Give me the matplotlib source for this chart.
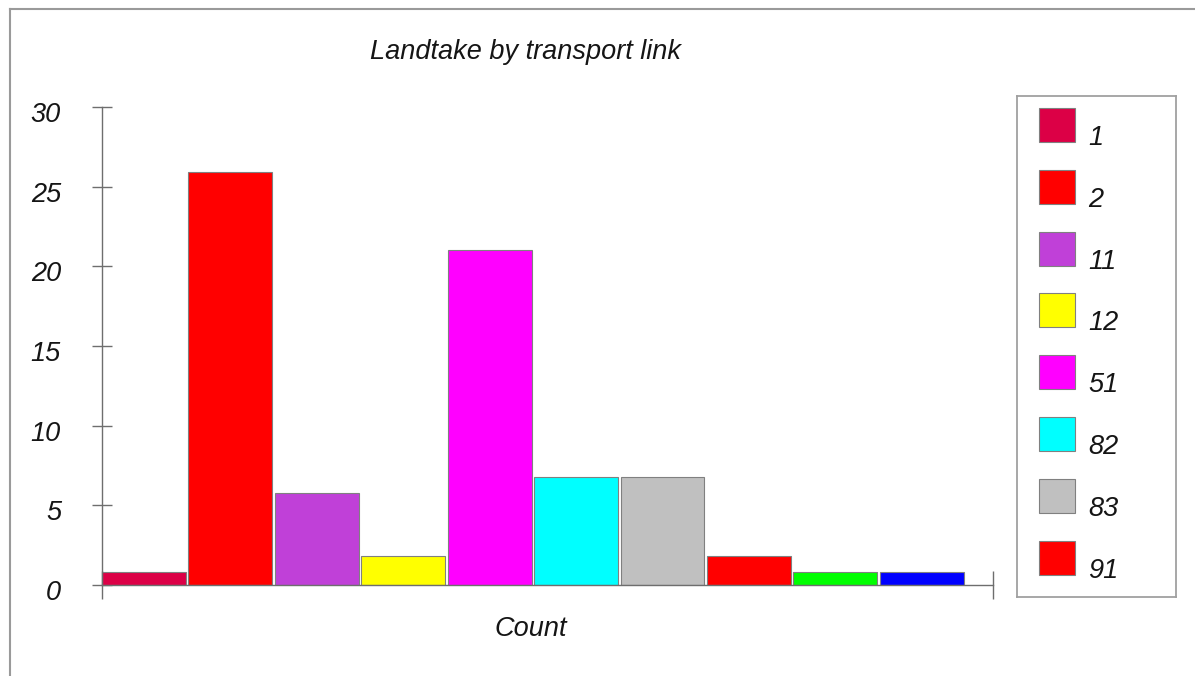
import matplotlib.pyplot as plt
import matplotlib.transforms as mtransforms
from matplotlib.patches import Rectangle
from matplotlib.lines import Line2D

plt.rcParams['font.family'] = ['Liberation Sans', 'DejaVu Sans']

# Data
counts = [0.8, 25.9, 5.8, 1.8, 21.0, 6.8, 6.8, 1.8, 0.8, 0.8]
bar_colors = ['#dc0046', '#ff0000', '#c040d8', '#ffff00', '#ff00ff',
              '#00ffff', '#c0c0c0', '#ff0000', '#00ff00', '#0000ff']
legend_labels = ['1', '2', '11', '12', '51', '82', '83', '91']
y_ticks = [0, 5, 10, 15, 20, 25, 30]

W, H = 1195, 676
FS = 19.5
TXT = '#151515'
fig = plt.figure(figsize=(W / 100, H / 100), dpi=100)

# outer frame (top and left edges visible)
fig.add_artist(Line2D([10 / W, 10 / W], [0, 1 - 9 / H], color='#9a9a9a', lw=1.5))
fig.add_artist(Line2D([10 / W, 1], [1 - 9 / H, 1 - 9 / H], color='#9a9a9a', lw=1.5))

# main plot area
ax = fig.add_axes([102 / W, 91 / H, 891 / W, 478 / H])
x = list(range(len(counts)))
ax.bar(x, counts, width=0.97, align='edge', color=bar_colors,
       edgecolor='#808080', linewidth=0.8, zorder=2)
ax.set_xlim(0, 10.31)
ax.set_ylim(0, 30)

for s in ['top', 'right']:
    ax.spines[s].set_visible(False)
for s in ['left', 'bottom']:
    ax.spines[s].set_color('#6e6e6e')
    ax.spines[s].set_linewidth(1.0)

ax.set_yticks(y_ticks)
ax.set_yticklabels([str(t) for t in y_ticks], fontstyle='italic', fontsize=FS, color=TXT)
ax.tick_params(axis='y', direction='inout', length=15, width=1.0, color='#6e6e6e', pad=22)
# labels sit a little below their ticks in the original
shift = mtransforms.ScaledTranslation(0, -0.05, fig.dpi_scale_trans)
for lbl in ax.get_yticklabels():
    lbl.set_transform(lbl.get_transform() + shift)
ax.set_xticks([0, 10.31])
ax.set_xticklabels(['', ''])
ax.tick_params(axis='x', direction='inout', length=20, width=1.0, color='#6e6e6e')

fig.text(531 / W, 1 - 629 / H, 'Count', fontstyle='italic', fontsize=FS,
         color=TXT, ha='center', va='center')
fig.text(526 / W, 1 - 52 / H, 'Landtake by transport link', fontstyle='italic',
         fontsize=FS, color=TXT, ha='center', va='center')

# legend box
lg = fig.add_axes([1017 / W, (H - 597) / H, 159 / W, 501 / H])
lg.set_xlim(0, 159)
lg.set_ylim(501, 0)
lg.set_xticks([])
lg.set_yticks([])
for s in lg.spines.values():
    s.set_color('#a0a0a0')
    s.set_linewidth(1.3)
for k, lab in enumerate(legend_labels):
    top = 12 + k * 61.8
    lg.add_patch(Rectangle((22, top), 36, 34, facecolor=bar_colors[k],
                           edgecolor='#808080', linewidth=0.8))
    lg.text(71, top + 30, lab, fontstyle='italic', fontsize=FS, color=TXT,
            ha='left', va='center')

fig.savefig('out.png', dpi=100)
